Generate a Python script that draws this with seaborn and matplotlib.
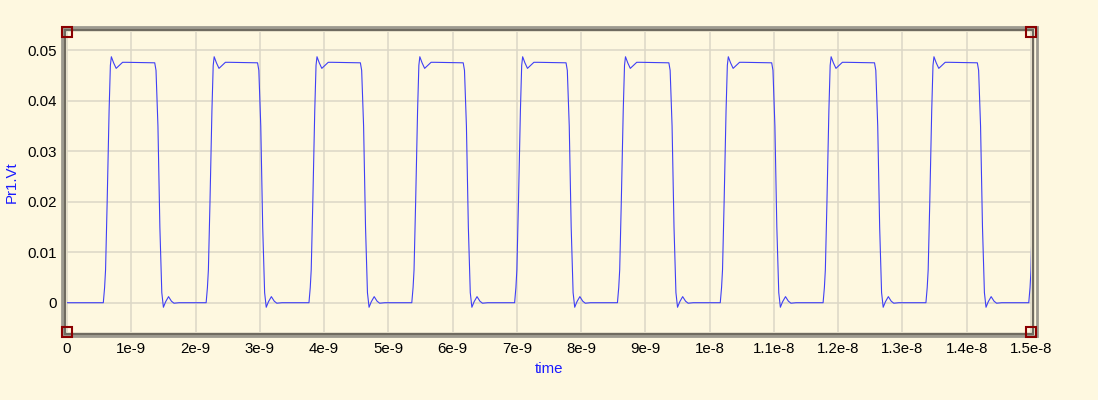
import matplotlib
matplotlib.use("Agg")
import matplotlib.pyplot as plt
from matplotlib.patches import Rectangle
import numpy as np
import pandas as pd
import seaborn as sns

# one pulse: time after the rising edge (ns) and voltage
pulse_t = [0.0, 0.02, 0.035, 0.06, 0.09, 0.11, 0.125, 0.16, 0.2, 0.25, 0.3, 0.36,
           0.8, 0.82, 0.85, 0.88, 0.91, 0.935, 0.97, 1.015, 1.06, 1.1, 1.18]
pulse_v = [0.0, 0.003, 0.0065, 0.02, 0.038, 0.047, 0.0487, 0.0475, 0.0464, 0.047, 0.0476, 0.0476,
           0.0475, 0.046, 0.035, 0.015, 0.002, -0.0009, 0.0002, 0.0012, 0.0003, -0.0001, 0.0]

# rising edges of the nine pulses (+ the one starting at the right edge), ns
rise_ns = [0.565, 2.165, 3.765, 5.365, 6.965, 8.565, 10.165, 11.765, 13.365, 14.965]

xtick_vals = [0, 1e-9, 2e-9, 3e-9, 4e-9, 5e-9, 6e-9, 7e-9, 8e-9, 9e-9,
              1e-8, 1.1e-8, 1.2e-8, 1.3e-8, 1.4e-8, 1.5e-8]
xtick_labels = ["0", "1e-9", "2e-9", "3e-9", "4e-9", "5e-9", "6e-9", "7e-9", "8e-9", "9e-9",
                "1e-8", "1.1e-8", "1.2e-8", "1.3e-8", "1.4e-8", "1.5e-8"]
ytick_vals = [0, 0.01, 0.02, 0.03, 0.04, 0.05]
ytick_labels = ["0", "0.01", "0.02", "0.03", "0.04", "0.05"]

# build the waveform from the pulse shape
t_all = [0.0]
v_all = [0.0]
for r in rise_ns:
    t_all += [(r + p) * 1e-9 for p in pulse_t]
    v_all += pulse_v
df = pd.DataFrame({"time": t_all, "Pr1.Vt": v_all})

bg = "#fef8e0"
sns.set_style("white")
plt.rcParams["font.family"] = ["Liberation Sans", "DejaVu Sans"]

fig = plt.figure(figsize=(10.98, 4.0), dpi=100, facecolor=bg)
W, H = 1098.0, 400.0
ax = fig.add_axes([67 / W, (H - 332) / H, (1031 - 67) / W, 300 / H])
ax.set_facecolor(bg)

sns.lineplot(data=df, x="time", y="Pr1.Vt", ax=ax, color="#4040f5", linewidth=0.8,
             estimator=None, sort=False)

ax.set_xlim(0, 1.5e-8)
ax.set_ylim(-0.0058, 0.0536)
ax.set_xticks(xtick_vals)
ax.set_xticklabels(xtick_labels)
ax.set_yticks(ytick_vals)
ax.set_yticklabels(ytick_labels)
ax.grid(True, color="#dcd7c6", linewidth=1.1)
ax.set_axisbelow(True)
ax.tick_params(direction="inout", length=7, width=1.1, color="#555555",
               labelsize=10.8, labelcolor="black", pad=4)
for s in ax.spines.values():
    s.set_visible(False)

ax.set_xlabel("time", color="#1a1aff", fontsize=10.8, labelpad=4)
ax.set_ylabel("Pr1.Vt", color="#1a1aff", fontsize=10.8, labelpad=6)

# double frame, drawn under the axes
fig.add_artist(Rectangle((61.5 / W, (H - 336) / H), 975 / W, 309.5 / H, transform=fig.transFigure,
                         fill=False, edgecolor="#9d9a90", linewidth=2.0, zorder=-2))
fig.add_artist(Rectangle((65 / W, (H - 333.5) / H), 968 / W, 303.5 / H, transform=fig.transFigure,
                         fill=False, edgecolor="#6f6b60", linewidth=1.7, zorder=-1))

# corner markers
ax.plot([0, 1, 0, 1], [0, 0, 1, 1], "s", transform=ax.transAxes, clip_on=False,
        markersize=6.5, markerfacecolor="none", markeredgecolor="#8b0000",
        markeredgewidth=1.5, zorder=10)

fig.savefig("out.png", dpi=100, facecolor=bg)
